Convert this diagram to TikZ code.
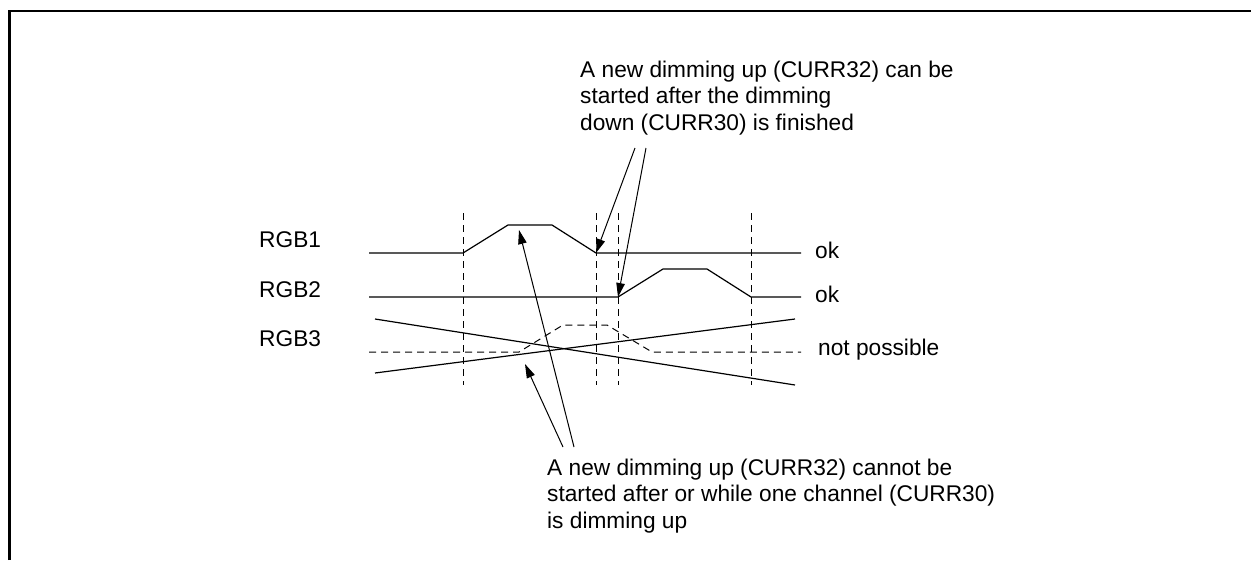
\documentclass[tikz,border=0pt]{standalone}
\usepackage{fontspec}
\setmainfont{Liberation Sans}
\usetikzlibrary{arrows.meta}
\tikzset{
  lbl/.style={anchor=base west, inner sep=0pt, align=left,
    font=\fontsize{22.7}{26.3}\selectfont},
  sig/.style={line width=1.2pt},
  mark line/.style={line width=1pt, dash pattern=on 7pt off 5pt},
  hint/.style={-{Triangle[length=14pt,width=8.5pt]}, line width=1pt}
}
\begin{document}
\begin{tikzpicture}[x=1pt,y=-1pt]
\useasboundingbox (0,0) rectangle (1251,560);
\draw[line width=2.7pt] (9.7,560) -- (9.7,11) -- (1251,11);
\foreach \t in {463,596,618,751}
  \draw[mark line] (\t,213) -- (\t,385);
\node[lbl] (rgb1) at (259,247) {RGB1};
\node[lbl] (rgb2) at (259,297) {RGB2};
\node[lbl] (rgb3) at (259,346) {RGB3};
\draw[sig] (369,253) -- (463,253) -- (508,225) -- (552,225)
  -- (596,253) coordinate (down1) -- (801,253);
\draw[sig] (369,297) -- (618,297) coordinate (up2) -- (663,269) -- (707,269)
  -- (751,297) -- (801,297);
\draw[mark line] (369,352) -- (519,352) -- (563,325) -- (607,325) -- (652,352) -- (801,352);
\draw[sig] (375,319) -- (795,385);
\draw[sig] (375,373) -- (795,319);
\node[lbl] (ok1) at (815,258) {ok};
\node[lbl] (ok2) at (815,302) {ok};
\node[lbl] (nop) at (818,355) {not possible};
\node[lbl] (canbe) at (580,130) {A new dimming up (CURR32) can be\\started after the dimming\\down (CURR30) is finished};
\node[lbl] (cannot) at (547,528) {A new dimming up (CURR32) cannot be\\started after or while one channel (CURR30)\\is dimming up};
\coordinate (c1) at (635,148);
\coordinate (c2) at (646,148);
\coordinate (n1) at (563,447);
\coordinate (n2) at (574,447);
\coordinate (top1) at (519,230);
\coordinate (cross) at (525,364);
\draw[hint] (c1) -- (down1);
\draw[hint] (c2) -- (up2);
\draw[hint] (n1) -- (cross);
\draw[hint] (n2) -- (top1);
\end{tikzpicture}
\end{document}
